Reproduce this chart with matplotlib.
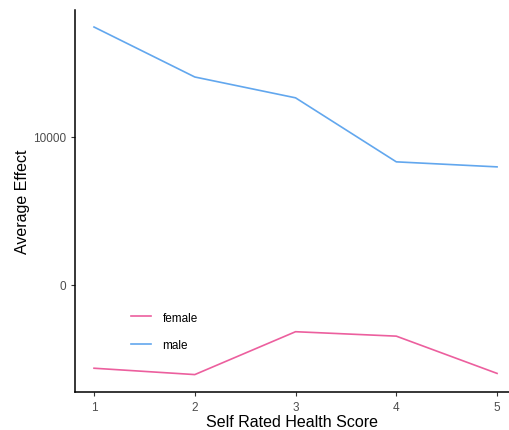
import matplotlib.pyplot as plt

plt.rcParams["font.family"] = ["Liberation Sans", "DejaVu Sans"]

# data
scores = [1, 2, 3, 4, 5]
female = [-5650, -6080, -3180, -3480, -6000]
male = [17430, 14050, 12640, 8310, 7970]

fig = plt.figure(figsize=(5.09, 4.31), dpi=100)
ax = fig.add_axes([0.1473, 0.0882, 0.853, 0.8872])

ax.plot(scores, female, color="#EC5F9E", linewidth=1.2, label="female")
ax.plot(scores, male, color="#62A7EE", linewidth=1.2, label="male")

ax.set_xlim(0.811, 5.12)
ax.set_ylim(-7257, 18608)
ax.set_xticks(scores)
ax.set_yticks([0, 10000])
ax.set_yticklabels(["0", "10000"])

for s in ["top", "right"]:
    ax.spines[s].set_visible(False)
for s in ["left", "bottom"]:
    ax.spines[s].set_linewidth(1.1)
    ax.spines[s].set_color("black")
ax.tick_params(axis="both", colors="#333333", labelsize=8.5, length=3, width=0.8,
               labelcolor="#4D4D4D")

ax.set_xlabel("Self Rated Health Score", fontsize=11.5, labelpad=1)
ax.set_ylabel("Average Effect", fontsize=11.5, labelpad=2)

ax.legend(loc="center left", bbox_to_anchor=(0.104, 0.159), frameon=False,
          fontsize=8.5, handlelength=1.7, labelspacing=1.3, handletextpad=1.0,
          bbox_transform=ax.transAxes)

fig.savefig("out.png", dpi=100)
